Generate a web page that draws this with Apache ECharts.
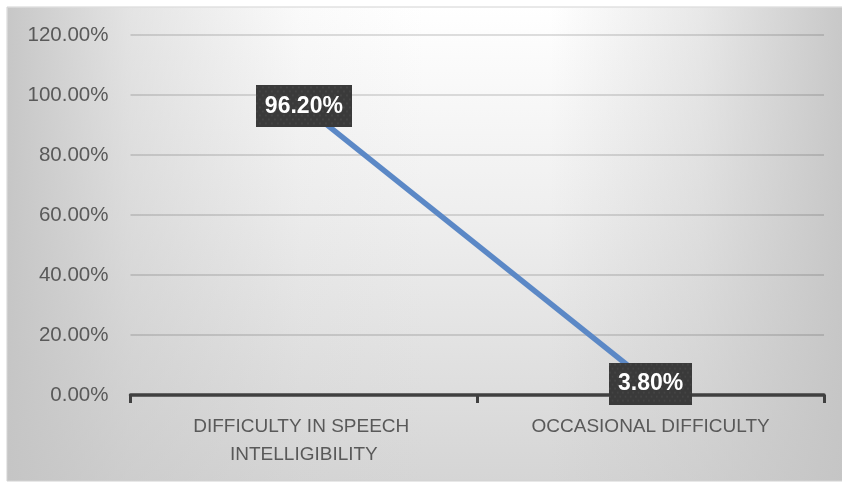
<!DOCTYPE html>
<html>
<head>
<meta charset="utf-8">
<script src="https://cdn.jsdelivr.net/npm/echarts@6/dist/echarts.min.js"></script>
<style>
  html, body { margin: 0; padding: 0; background: #ffffff; }
  #chart { width: 842px; height: 483px; }
</style>
</head>
<body>
<div id="chart"></div>
<script>
// Share of respondents per difficulty category
const categories = ['DIFFICULTY IN SPEECH INTELLIGIBILITY', 'OCCASIONAL DIFFICULTY'];
const shares = [0.962, 0.038];
const yTicks = { min: 0, max: 1.2, step: 0.2 };

const FONT = '"Liberation Sans", Arial, sans-serif';
const pct = v => (v * 100).toFixed(2) + '%';

// Dark dotted texture used behind the value labels
function dottedTile(w, h) {
  const c = document.createElement('canvas');
  c.width = w; c.height = h;
  const g = c.getContext('2d');
  g.fillStyle = '#3a3a3a';
  g.fillRect(0, 0, w, h);
  g.fillStyle = 'rgba(255,255,255,0.07)';
  for (let y = 2, row = 0; y < h; y += 4, row++) {
    for (let x = (row % 2) ? 4 : 1; x < w; x += 6) {
      g.beginPath();
      g.arc(x, y, 1.1, 0, Math.PI * 2);
      g.fill();
    }
  }
  return c;
}
const labelTexture = dottedTile(96, 42);

const chart = echarts.init(document.getElementById('chart'), null, { renderer: 'canvas' });

chart.setOption({
  backgroundColor: '#ffffff',
  animation: false,
  graphic: [
    {
      // chart panel: light at the top, greying toward the bottom
      type: 'rect', z: -10, silent: true,
      shape: { x: 7, y: 7, width: 840, height: 474 },
      style: {
        fill: {
          type: 'linear', x: 0, y: 0, x2: 0, y2: 1,
          colorStops: [
            { offset: 0, color: '#ffffff' },
            { offset: 0.45, color: '#eeeeee' },
            { offset: 1, color: '#d5d5d5' }
          ]
        },
        stroke: '#d2d2d2', lineWidth: 1
      }
    },
    {
      // side shading toward the left and right edges
      type: 'rect', z: -9, silent: true,
      shape: { x: 7.5, y: 7.5, width: 835, height: 473 },
      style: {
        fill: {
          type: 'linear', x: 0, y: 0, x2: 1, y2: 0,
          colorStops: [
            { offset: 0, color: 'rgba(196,196,196,0.95)' },
            { offset: 0.147, color: 'rgba(196,196,196,0.46)' },
            { offset: 0.35, color: 'rgba(196,196,196,0.08)' },
            { offset: 0.5, color: 'rgba(196,196,196,0)' },
            { offset: 0.65, color: 'rgba(196,196,196,0)' },
            { offset: 0.83, color: 'rgba(196,196,196,0.39)' },
            { offset: 1, color: 'rgba(196,196,196,0.93)' }
          ]
        }
      }
    }
  ],
  grid: { left: 130.5, right: 18, top: 35, bottom: 88, containLabel: false },
  xAxis: {
    type: 'category',
    data: categories,
    boundaryGap: true,
    axisLine: { show: true, lineStyle: { color: '#404040', width: 3.5 } },
    axisTick: { show: true, length: 8, interval: 0, lineStyle: { color: '#404040', width: 3 } },
    axisLabel: {
      interval: 0,
      margin: 18,
      color: '#595959',
      fontFamily: FONT,
      fontSize: 19,
      lineHeight: 28,
      width: 290,
      overflow: 'break',
      align: 'center'
    },
    splitLine: { show: false }
  },
  yAxis: {
    type: 'value',
    min: yTicks.min,
    max: yTicks.max,
    interval: yTicks.step,
    axisLine: { show: false },
    axisTick: { show: false },
    axisLabel: {
      margin: 22,
      color: '#595959',
      fontFamily: FONT,
      fontSize: 20.5,
      formatter: v => pct(v)
    },
    splitLine: { show: true, lineStyle: { color: 'rgba(0,0,0,0.17)', width: 1.5 } }
  },
  series: [{
    type: 'line',
    data: shares,
    showSymbol: true,
    symbol: 'circle',
    symbolSize: 1,
    itemStyle: { color: 'rgba(0,0,0,0)' },
    lineStyle: { color: '#5b88c6', width: 5.5 },
    label: {
      show: true,
      position: 'inside',
      formatter: p => pct(p.value),
      color: '#ffffff',
      fontFamily: FONT,
      fontWeight: 'bold',
      fontSize: 23,
      lineHeight: 22,
      backgroundColor: { image: labelTexture },
      padding: [10, 9, 10, 9],
      shadowColor: 'rgba(0,0,0,0.45)',
      shadowBlur: 6,
      shadowOffsetX: 3,
      shadowOffsetY: 3
    },
    z: 5
  }]
});
</script>
</body>
</html>
